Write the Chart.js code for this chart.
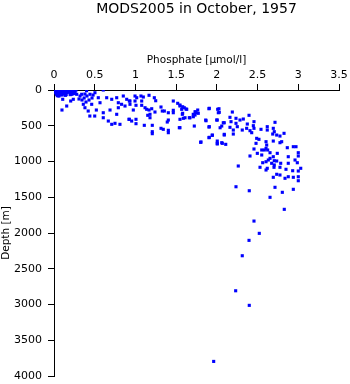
<!DOCTYPE html>
<html>
<head>
<meta charset="utf-8">
<script src="https://cdn.jsdelivr.net/npm/chart.js@4/dist/chart.umd.min.js"></script>
<style>
html,body{margin:0;padding:0;background:#fff;}
#wrap{width:350px;height:384px;}
</style>
</head>
<body>
<div id="wrap"><canvas id="c" width="350" height="384"></canvas></div>
<script>
const chartTitle = "MODS2005 in October, 1957";
const xAxisTitle = "Phosphate [\u00b5mol/l]";
const yAxisTitle = "Depth [m]";
const xTickLabels = ["0","0.5","1","1.5","2","2.5","3","3.5"];
const yTickLabels = ["0","500","1000","1500","2000","2500","3000","3500","4000"];

// surface cluster (phosphate, depth)
const surfPhosphate = [0.01,0.03,0.05,0.07,0.09,0.11,0.13,0.15,0.17,0.19,0.21,0.23,0.25,0.27,
  0.02,0.04,0.06,0.08,0.10,0.12,0.14,0.16,0.18,0.20,0.22,0.24,0.26,
  0.01,0.03,0.05,0.07,0.09,0.11,0.13,0.15,0.17,0.19,0.21,0.24,
  0.02,0.04,0.06,0.08,0.10,0.13,0.16,0.20,0.25,
  0.03,0.05,0.07,0.09,0.12,0.15,0.22,0.04,0.06,0.10,0.14,0.20];
const surfDepth = [0,0,5,0,0,5,0,0,5,0,0,5,0,0,
  15,10,15,10,15,10,15,10,20,10,15,10,25,
  25,30,20,25,30,20,25,35,20,30,25,40,
  40,45,35,50,40,45,35,55,50,
  60,55,70,60,55,65,60,80,85,70,75,65];

// upper layer 0.1 - 1.0
const upPhosphate = [0.107,0.205,0.156,0.098,0.237,0.279,0.40,0.605,0.38,0.42,0.44,0.50,0.52,0.605,0.605,0.667,0.709,0.749,0.81,0.77,0.688,0.79,0.872,0.925,0.925,0.565,0.544,0.647,0.709,0.77,0.851,0.893,0.79,0.83,0.463,0.36,0.442,0.34,0.503,
  0.32,0.37,0.405,0.43,0.467,0.393,0.344,0.48,0.307,0.38];
const upDepth = [130,154,224,280,130,60,10,0,248,294,364,364,280,318,388,434,480,466,480,340,280,248,224,154,410,178,108,108,130,108,84,130,178,200,200,200,60,60,38,
  84,112,84,140,112,168,140,70,126,56];

// middle layer 1.0 - 2.1
const midPhosphate = [0.995,1.016,1.097,1.167,1.232,1.249,1.077,0.995,0.933,0.933,1.007,1.077,1.118,1.138,1.167,1.20,1.24,1.179,1.151,1.179,0.974,1.314,1.33,1.355,1.404,1.465,1.519,1.547,1.568,1.60,1.63,1.576,1.465,1.465,1.588,1.547,1.67,1.71,1.74,1.765,1.744,1.903,2.026,2.018,1.863,1.998,2.079,2.06,2.04,1.404,1.391,0.921,0.954,1.007,1.007,1.109,1.207,1.207,1.207,1.314,1.342,1.404,1.404,1.539,1.723,1.903,1.903,1.944,1.805,2.005,2.06,2.091,1.068];
const midDepth = [84,108,98,74,108,150,154,154,154,200,214,214,248,270,280,262,308,340,354,388,280,238,294,294,318,154,186,224,270,248,270,340,284,318,396,410,388,340,308,280,318,262,262,318,420,420,458,504,528,420,448,410,434,410,471,494,494,583,611,536,550,564,597,527,504,518,667,634,727,746,737,620,84];

// deeper band 1.5 - 3.05
const deepPhosphate = [1.547,1.58,1.621,1.58,1.609,1.662,1.732,1.772,1.732,1.711,1.907,2.01,2.03,1.867,2.005,1.907,1.547,2.091,2.161,2.19,2.235,2.284,2.325,2.395,2.456,2.448,2.235,2.174,2.161,2.202,2.251,2.312,2.374,2.366,2.407,2.456,2.428,2.542,2.619,2.619,2.714,2.686,2.705,2.735,2.775,2.825,2.693,2.091,2.202,1.944,1.907,1.801,2.005,2.005,2.067,2.109,
  2.489,2.517,2.481,2.604,2.693,2.775,2.796,2.612,2.604,2.624,2.583,2.551,2.456,2.497,2.653,2.742,2.693,2.653,2.632,2.705,2.735,2.784,2.673,2.604,2.563,2.619,2.604,2.705,2.702,2.775,2.849,2.939,2.972,3.0,3.0,2.96,2.988,2.877,2.865,2.877,3.03,3.0,2.931,3.0,3.0,2.939,2.877,2.837,2.775,2.735,2.693,2.714,2.804,2.939,2.653,2.828,2.456,2.398,2.235,2.263,2.407,2.551,2.53];
const deepDepth = [210,234,266,326,388,388,304,326,350,374,256,270,312,430,420,513,527,458,382,308,396,420,406,354,443,499,466,443,522,560,513,560,476,536,569,536,597,550,513,560,452,616,583,630,644,606,536,630,616,630,662,732,714,755,746,760,
  676,690,746,723,714,737,723,770,816,839,839,839,825,886,877,886,933,956,979,989,993,1025,1025,1003,1017,1095,1119,1049,1081,1081,1109,793,793,877,923,979,1017,933,807,1025,1095,1133,1129,1213,1269,1221,1213,1235,1189,1179,1221,1361,1431,1389,1501,1669,1833,1409,1353,1063,923,909,1081];

// abyssal samples
const abyssPhosphate = [2.521,2.395,2.312,2.231,2.398,1.961];
const abyssDepth = [2005,2103,2318,2808,3012,3796];

function pairs(xs, ys){ return xs.map((x,i)=>({x:x, y:ys[i]})); }
const points = [].concat(
  pairs(surfPhosphate, surfDepth),
  pairs(upPhosphate, upDepth),
  pairs(midPhosphate, midDepth),
  pairs(deepPhosphate, deepDepth),
  pairs(abyssPhosphate, abyssDepth)
);

const FONT = "'DejaVu Sans', 'Liberation Sans', Arial, sans-serif";
new Chart(document.getElementById('c'), {
  type: 'scatter',
  data: { datasets: [{
    data: points,
    pointStyle: 'rect',
    pointRadius: 2.2,
    pointBorderWidth: 0,
    backgroundColor: '#0000ff',
    borderColor: '#0000ff'
  }]},
  options: {
    responsive: false,
    animation: false,
    layout: { padding: { left: 0, right: 11, top: 0, bottom: 8 } },
    plugins: {
      legend: { display: false },
      tooltip: { enabled: false },
      title: {
        display: true, text: chartTitle, fullSize: false,
        color: '#000', font: { family: FONT, size: 14, weight: 'normal' },
        padding: { top: 0.5, bottom: 22.7 }
      }
    },
    scales: {
      x: {
        type: 'linear', position: 'top', min: 0, max: 3.5,
        afterFit: s => { s.height = 50; s.paddingLeft = 0; s.paddingRight = 0; },
        grid: { drawOnChartArea: false, drawTicks: true, tickLength: 6, tickColor: '#000', lineWidth: 1 },
        border: { display: true, color: '#000', width: 1 },
        ticks: { stepSize: 0.5, padding: 2, color: '#000', maxRotation: 0,
          font: { family: FONT, size: 11 },
          callback: (v) => { const i = Math.round(v / 0.5); return xTickLabels[i] !== undefined ? xTickLabels[i] : ''; } },
        title: { display: true, text: xAxisTitle, color: '#000', font: { family: FONT, size: 10.5 }, padding: { top: 14.2, bottom: 0 } }
      },
      y: {
        type: 'linear', position: 'left', min: 0, max: 4000, reverse: true,
        afterFit: s => { s.width = 54; s.paddingTop = 0; s.paddingBottom = 0; },
        grid: { drawOnChartArea: false, drawTicks: true, tickLength: 6, tickColor: '#000', lineWidth: 1 },
        border: { display: true, color: '#000', width: 1 },
        ticks: { stepSize: 500, padding: 6, color: '#000',
          font: { family: FONT, size: 11 },
          callback: (v) => { const i = Math.round(v / 500); return yTickLabels[i] !== undefined ? yTickLabels[i] : ''; } },
        title: { display: true, text: yAxisTitle, color: '#000', font: { family: FONT, size: 10.5 }, padding: { top: 0, bottom: 0 } }
      }
    }
  }
});
</script>
</body>
</html>
